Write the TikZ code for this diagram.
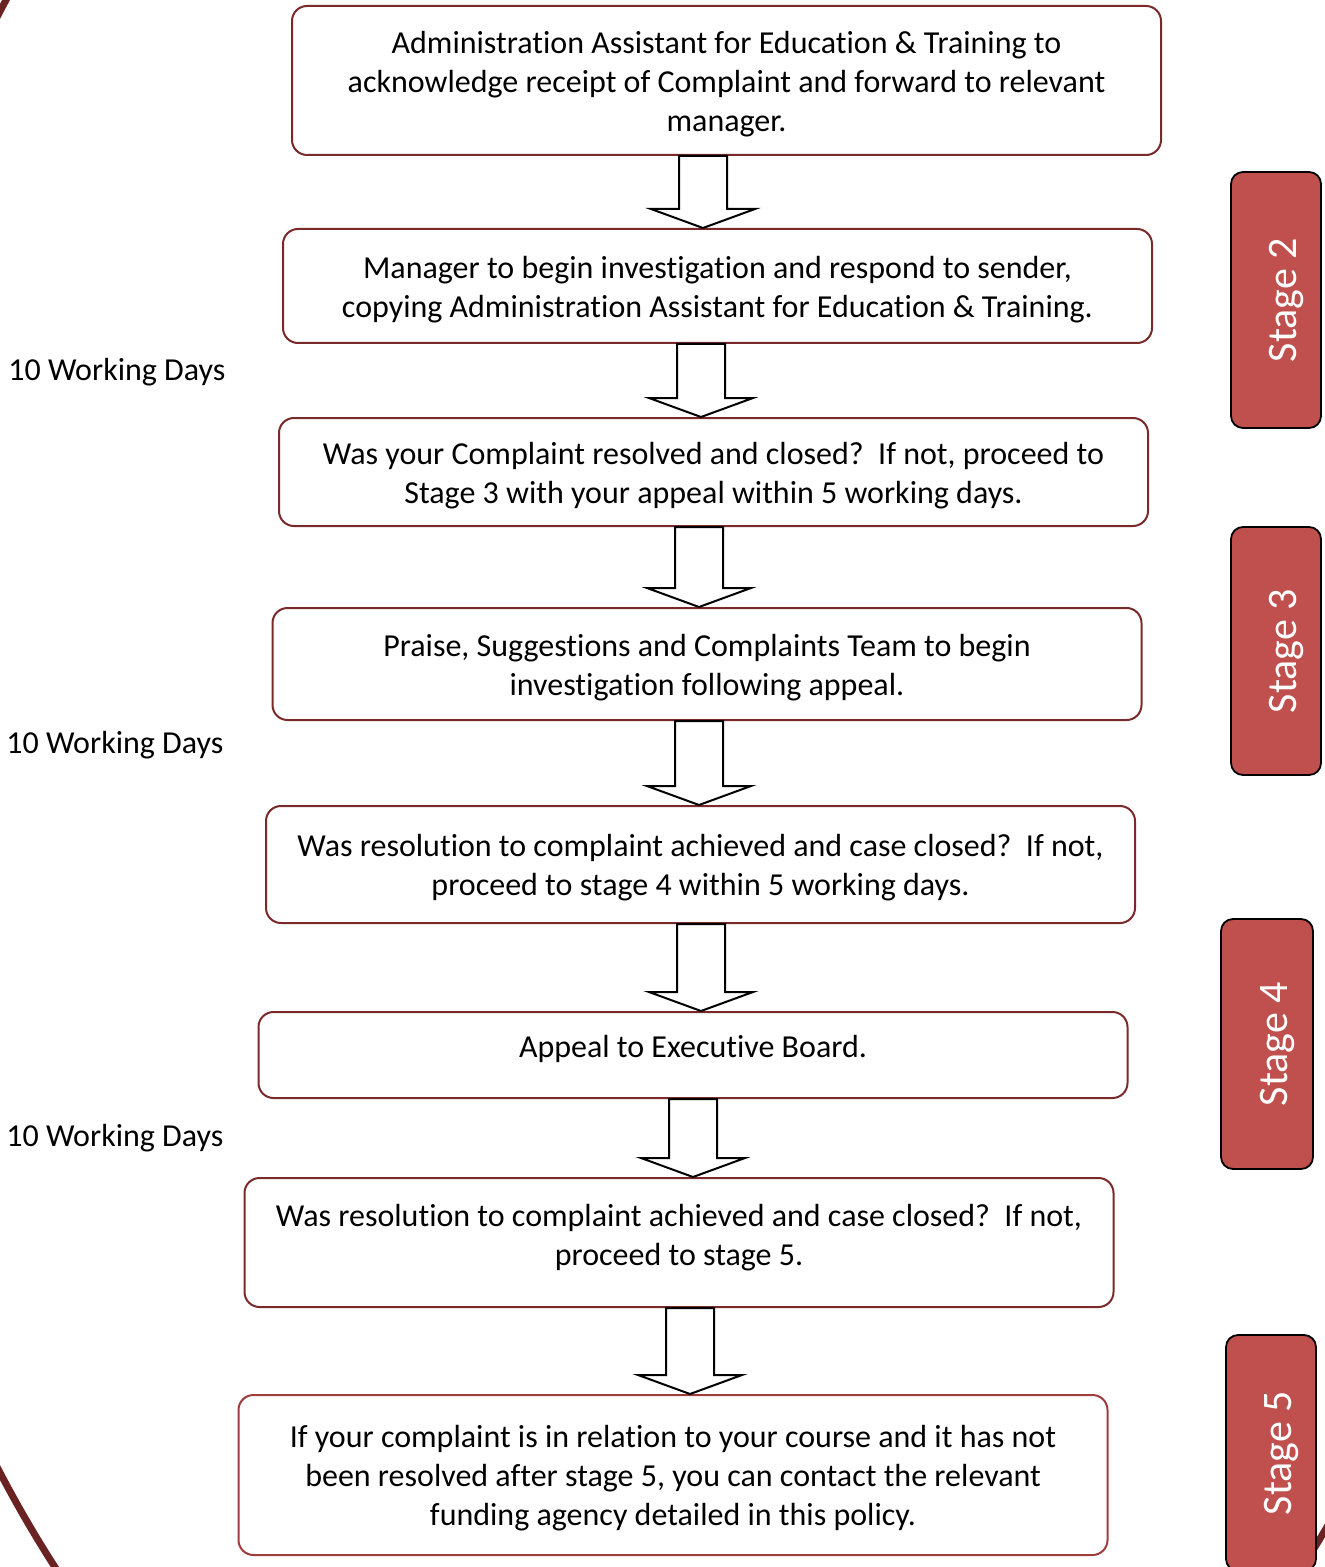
\documentclass[tikz,border=0pt]{standalone}
\usepackage{fontspec}
\setmainfont[Ligatures=NoCommon]{Carlito}
\usetikzlibrary{calc}
\definecolor{boxred}{HTML}{7A2A2A}
\definecolor{lastred}{HTML}{A03C3C}
\definecolor{tabred}{HTML}{C0504D}
\definecolor{ringred}{HTML}{6B2222}
\newcommand{\firstline}{\rule{0pt}{14.7pt}}

\begin{document}
\begin{tikzpicture}[x=0.5pt, y=-0.5pt,
    every node/.style={font=\fontsize{16}{19.5}\selectfont, align=center},
    stepbox/.style={rectangle, draw=boxred, line width=1pt, rounded corners=7.5pt,
                    minimum width=434.5pt, inner sep=0pt},
    stagetab/.style={rectangle, draw=black, line width=0.9pt, rounded corners=6pt,
                     fill=tabred, text=white, font=\fontsize{21}{25}\selectfont,
                     rotate=90, minimum height=45pt, inner sep=0pt, text height=24pt},
    days/.style={anchor=west, inner sep=0pt},
    blockarr/.style={draw=black, fill=white, line width=1pt, line join=miter,
        to path={let \p1=(\tikztostart), \p2=(\tikztotarget) in
            (\x1-12pt,\y1) -- (\x1+12pt,\y1) -- (\x1+12pt,\y2+9.5pt) -- (\x1+26pt,\y2+9.5pt)
            -- (\x1,\y2) -- (\x1-26pt,\y2+9.5pt) -- (\x1-12pt,\y2+9.5pt) -- cycle}},
]
    \useasboundingbox (0,0) rectangle (1325,1567);
    % big ring in the background
    \begin{scope}
        \clip (0,0) rectangle (1325,1567);
        \draw[ringred, line width=3.5pt] (678.6,742) ellipse [x radius=424.3pt, y radius=608.3pt];
    \end{scope}

    \node[stepbox, minimum height=74.5pt] (ack) at (726.5, 80.5)
        {\firstline Administration Assistant for Education \& Training to\\
         acknowledge receipt of Complaint and forward to relevant\\ manager.};
    \node[stepbox, minimum height=57pt] (invest) at (717.5, 286)
        {\firstline Manager to begin investigation and respond to sender,\\
         copying Administration Assistant for Education \& Training.};
    \node[stepbox, minimum height=54pt] (closed) at (713.5, 472)
        {\firstline Was your Complaint resolved and closed?\ \ If not, proceed to\\
         Stage 3 with your appeal within 5 working days.};
    \node[stepbox, minimum height=56pt] (team) at (707, 664)
        {\firstline Praise, Suggestions and Complaints Team to begin\\
         investigation following appeal.};
    \node[stepbox, minimum height=58.5pt] (resolved) at (700.5, 864.5)
        {\firstline Was resolution to complaint achieved and case closed?\ \ If not,\\
         proceed to stage 4 within 5 working days.};
    \node[stepbox, minimum height=43pt, text depth=12.5pt] (board) at (693, 1055)
        {\firstline Appeal to Executive Board.};
    \node[stepbox, minimum height=64.5pt, text depth=11.5pt] (final) at (679, 1242.5)
        {\firstline Was resolution to complaint achieved and case closed?\ \ If not,\\
         proceed to stage 5.};
    \node[stepbox, draw=lastred, minimum height=80pt] (agency) at (673, 1475)
        {\firstline If your complaint is in relation to your course and it has not\\
         been resolved after stage 5, you can contact the relevant\\
         funding agency detailed in this policy.};

    \draw[blockarr] (703,0 |- ack.south) to (703,0 |- invest.north);
    \draw[blockarr] (701,0 |- invest.south) to (701,0 |- closed.north);
    \draw[blockarr] (699,0 |- closed.south) to (699,0 |- team.north);
    \draw[blockarr] (699,0 |- team.south) to (699,0 |- resolved.north);
    \draw[blockarr] (701,0 |- resolved.south) to (701,0 |- board.north);
    \draw[blockarr] (693,0 |- board.south) to (693,0 |- final.north);
    \draw[blockarr] (690,0 |- final.south) to (690,0 |- agency.north);

    \node[days] (days2) at (8, 372) {10 Working Days};
    \node[days] (days3) at (6, 745) {10 Working Days};
    \node[days] (days4) at (6, 1138) {10 Working Days};

    \node[stagetab, minimum width=128pt] (stage2) at (1276, 300) {Stage 2};
    \node[stagetab, minimum width=124pt] (stage3) at (1276, 651) {Stage 3};
    \node[stagetab, minimum width=125pt, minimum height=46pt] (stage4) at (1267, 1044) {Stage 4};
    \node[stagetab, minimum width=118pt] (stage5) at (1271, 1453) {Stage 5};
\end{tikzpicture}
\end{document}
